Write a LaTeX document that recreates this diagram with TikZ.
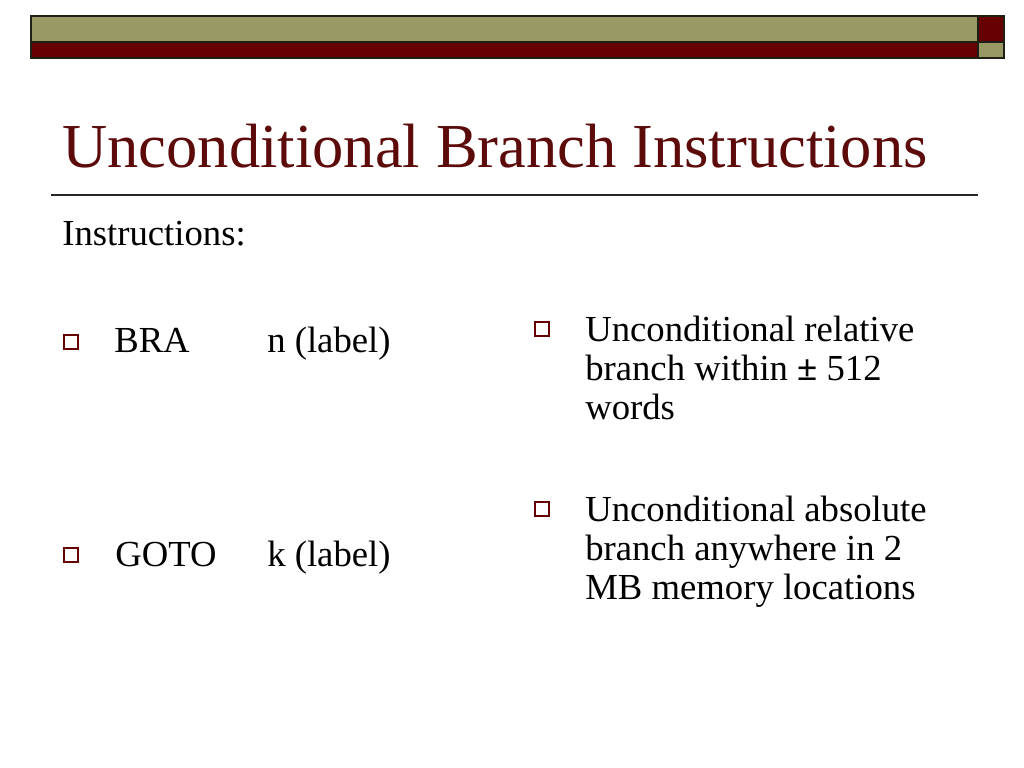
\documentclass[tikz,border=0pt]{standalone}
\usepackage{fontspec}
\setmainfont{Liberation Serif}
\definecolor{olive}{HTML}{999966}
\definecolor{maroon}{HTML}{660000}
\definecolor{titlered}{HTML}{5C0A0A}
\begin{document}
\begin{tikzpicture}[x=0.703125pt,y=-0.703125pt,
  bar/.style={draw=black!80!olive,line width=0.8pt},
  bul/.style={draw=maroon,line width=1.5pt,minimum size=9.8pt,inner sep=0pt,fill=white},
  txt/.style={anchor=base west,inner sep=0pt,font=\fontsize{25.8}{29}\selectfont},
  ttl/.style={anchor=base west,inner sep=0pt,font=\fontsize{44}{50}\selectfont,text=titlered}]
\useasboundingbox[fill=white] (0,0) rectangle (1024,768);
% header bars
\fill[olive] (31,16) rectangle (978,42);
\fill[maroon] (31,42) rectangle (978,58);
\fill[maroon] (978,16) rectangle (1004,42);
\fill[olive] (978,42) rectangle (1004,58);
\draw[bar] (31,16) rectangle (978,42);
\draw[bar] (31,42) rectangle (978,58);
\draw[bar] (978,16) rectangle (1004,42);
\draw[bar] (978,42) rectangle (1004,58);
% title
\node[ttl] (title) at (62,168) {Unconditional Branch Instructions};
\draw[line width=0.9pt,black!85] (51,195) -- (978,195);
% body
\node[txt] (instr) at (62,246) {Instructions:};
\node[bul] (b1) at (71,342) {};
\node[txt] (bra) at (114,352) {BRA};
\node[txt] (bran) at (267,352) {n (label)};
\node[bul] (b2) at (71,555) {};
\node[txt] (goto) at (115,566) {GOTO};
\node[txt] (gotok) at (267,566) {k (label)};
% right column
\node[bul] (b3) at (542,329) {};
\node[txt] (d1a) at (585,341) {Unconditional relative};
\node[txt] (d1b) at (585,380) {branch within \textbf{±} 512};
\node[txt] (d1c) at (585,419) {words};
\node[bul] (b4) at (542,509) {};
\node[txt] (d2a) at (585,521) {Unconditional absolute};
\node[txt] (d2b) at (585,560) {branch anywhere in 2};
\node[txt] (d2c) at (585,599) {MB memory locations};
\end{tikzpicture}
\end{document}
